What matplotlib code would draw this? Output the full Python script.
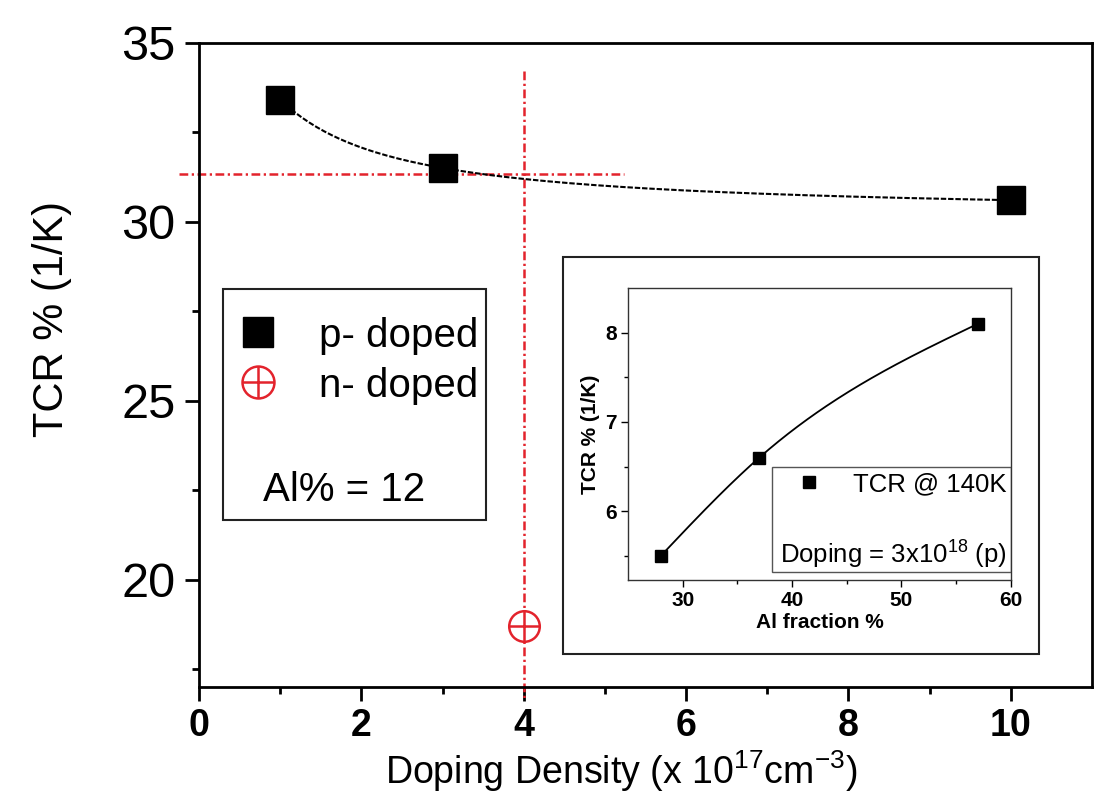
import numpy as np
import matplotlib
matplotlib.use("Agg")
import matplotlib.pyplot as plt
from matplotlib.lines import Line2D
from matplotlib.patches import Rectangle
from matplotlib.legend_handler import HandlerTuple

# datos
p_density = [1, 3, 10]          # x 10^17 cm^-3
p_tcr = [33.4, 31.5, 30.6]
n_density = [4]
n_tcr = [18.7]

al_fraction = [28, 37, 57]      # inset
tcr_140k = [5.5, 6.6, 8.1]

# líneas guía rojas
guide_density = 4.0
guide_tcr = 31.33

RED = "#e3232c"


def natural_spline(x, y, xs):
    # spline cúbico natural (sin scipy)
    x = np.asarray(x, float)
    y = np.asarray(y, float)
    n = len(x)
    h = np.diff(x)
    A = np.zeros((n, n))
    b = np.zeros(n)
    A[0, 0] = A[-1, -1] = 1
    for i in range(1, n - 1):
        A[i, i - 1] = h[i - 1]
        A[i, i] = 2 * (h[i - 1] + h[i])
        A[i, i + 1] = h[i]
        b[i] = 6 * ((y[i + 1] - y[i]) / h[i] - (y[i] - y[i - 1]) / h[i - 1])
    M = np.linalg.solve(A, b)
    out = np.empty_like(xs)
    for k, xv in enumerate(xs):
        i = min(np.searchsorted(x, xv, side="right") - 1, n - 2)
        i = max(i, 0)
        t1 = x[i + 1] - xv
        t0 = xv - x[i]
        out[k] = (M[i] * t1 ** 3 + M[i + 1] * t0 ** 3) / (6 * h[i]) \
            + (y[i] / h[i] - M[i] * h[i] / 6) * t1 \
            + (y[i + 1] / h[i] - M[i + 1] * h[i] / 6) * t0
    return out


plt.rcParams["font.family"] = ["Liberation Sans", "DejaVu Sans"]
plt.rcParams["mathtext.fontset"] = "custom"
plt.rcParams["mathtext.rm"] = "Liberation Sans"
plt.rcParams["mathtext.it"] = "Liberation Sans:italic"
plt.rcParams["mathtext.bf"] = "Liberation Sans:bold"
plt.rcParams["mathtext.default"] = "regular"

fig = plt.figure(figsize=(10.94, 8.06), dpi=100)
ax = fig.add_axes([0.182, 0.1476, 0.816, 0.7995])

# curva ajustada (p-doped): polinomio en 1/x
x_fit = np.linspace(min(p_density), max(p_density), 200)
coef = np.polyfit(1 / np.array(p_density), p_tcr, 2)
ax.plot(x_fit, np.polyval(coef, 1 / x_fit), color="black", lw=1.5,
        linestyle=(0, (2.6, 0.9)), zorder=3)

# guías rojas
dashdot = (0, (3.5, 1.4, 0.9, 1.4))
ax.plot([-0.25, 5.24], [guide_tcr, guide_tcr], color=RED, lw=1.8,
        linestyle=dashdot, clip_on=False, zorder=2)
ax.plot([guide_density, guide_density], [34.2, 16.6], color=RED, lw=1.8,
        linestyle=dashdot, clip_on=False, zorder=2)

ax.plot(p_density, p_tcr, linestyle="none", marker="s", ms=20,
        color="black", zorder=4)
ax.plot(n_density, n_tcr, linestyle="none", marker="o", ms=22,
        mfc="white", mec=RED, mew=1.8, zorder=4)
ax.plot(n_density, n_tcr, linestyle="none", marker="+", ms=22,
        mec=RED, mew=1.8, zorder=5)

ax.set_xlim(0, 11)
ax.set_ylim(17, 35)
ax.set_xticks([0, 2, 4, 6, 8, 10])
ax.set_xticks([1, 3, 5, 7, 9], minor=True)
ax.set_yticks([20, 25, 30, 35])
ax.set_yticks([17.5, 22.5, 27.5, 32.5], minor=True)
for s in ax.spines.values():
    s.set_linewidth(2)
ax.tick_params(which="major", direction="out", length=10, width=2)
ax.tick_params(which="minor", direction="out", length=5, width=2)
ax.tick_params(axis="y", which="major", labelsize=35, pad=7)
ax.tick_params(axis="x", which="major", labelsize=27, pad=5)
for lab in ax.get_xticklabels():
    lab.set_fontweight("bold")

ax.set_xlabel(r"Doping Density (x 10$^{17}$cm$^{-3}$)", fontsize=27)
ax.set_ylabel("TCR % (1/K)", fontsize=30)
ax.xaxis.set_label_coords(0.4726, -0.095)
ax.yaxis.set_label_coords(-0.142, 0.571)

# leyenda principal con marco manual
h_p = Line2D([], [], linestyle="none", marker="s", ms=21, color="black")
h_n1 = Line2D([], [], linestyle="none", marker="o", ms=23, mfc="white",
              mec=RED, mew=1.8)
h_n2 = Line2D([], [], linestyle="none", marker="+", ms=23, mec=RED, mew=1.8)
leg = ax.legend([h_p, (h_n1, h_n2)], ["p- doped", "n- doped"],
                handler_map={tuple: HandlerTuple(ndivide=1, pad=0)},
                loc="upper left", bbox_to_anchor=(0.0437, 0.575),
                frameon=False, fontsize=29, handlelength=1.0,
                handletextpad=1.0, labelspacing=0.3, borderpad=0,
                borderaxespad=0)
ax.add_patch(Rectangle((0.027, 0.259), 0.294, 0.359, transform=ax.transAxes,
                       fill=False, edgecolor="#222222", lw=1.5, zorder=6))
ax.text(0.072, 0.306, "Al% = 12", transform=ax.transAxes, fontsize=29,
        va="center", ha="left")

# marco del inset
ax.add_patch(Rectangle((0.4076, 0.0512), 0.533, 0.6162, transform=ax.transAxes,
                       facecolor="white", edgecolor="#222222", lw=1.5, zorder=6))

# inset
ins = fig.add_axes([0.574, 0.2804, 0.350, 0.3623])
xs = np.linspace(min(al_fraction), max(al_fraction), 200)
ins.plot(xs, natural_spline(al_fraction, tcr_140k, xs), color="black", lw=1.3)
ins.plot(al_fraction, tcr_140k, linestyle="none", marker="s", ms=9,
         color="black", label="TCR @ 140K")
ins.set_xlim(25, 60)
ins.set_ylim(5.23, 8.5)
ins.set_xticks([30, 40, 50, 60])
ins.set_xticks([35, 45, 55], minor=True)
ins.set_yticks([6, 7, 8])
ins.set_yticks([5.5, 6.5, 7.5], minor=True)
for s in ins.spines.values():
    s.set_linewidth(1.0)
    s.set_color("#333333")
ins.tick_params(which="major", direction="out", length=5, width=1,
                labelsize=15, pad=3)
ins.tick_params(which="minor", direction="out", length=3, width=1)
for lab in ins.get_xticklabels() + ins.get_yticklabels():
    lab.set_fontweight("bold")
ins.set_xlabel("Al fraction %", fontsize=15, fontweight="bold", labelpad=2)
ins.set_ylabel("TCR % (1/K)", fontsize=15, fontweight="bold", labelpad=4)

ins.add_patch(Rectangle((0.376, 0.027), 0.624, 0.36, transform=ins.transAxes,
                        fill=False, edgecolor="#555555", lw=1.0, zorder=6))
ins.legend(loc="center left", bbox_to_anchor=(0.44, 0.329), frameon=False,
           fontsize=18.5, handlelength=1.0, handletextpad=1.2, borderpad=0,
           borderaxespad=0)
ins.text(0.397, 0.086, r"Doping = 3x10$^{18}$ (p)", transform=ins.transAxes,
         fontsize=18.5, va="center", ha="left")

fig.savefig("out.png", dpi=100)
